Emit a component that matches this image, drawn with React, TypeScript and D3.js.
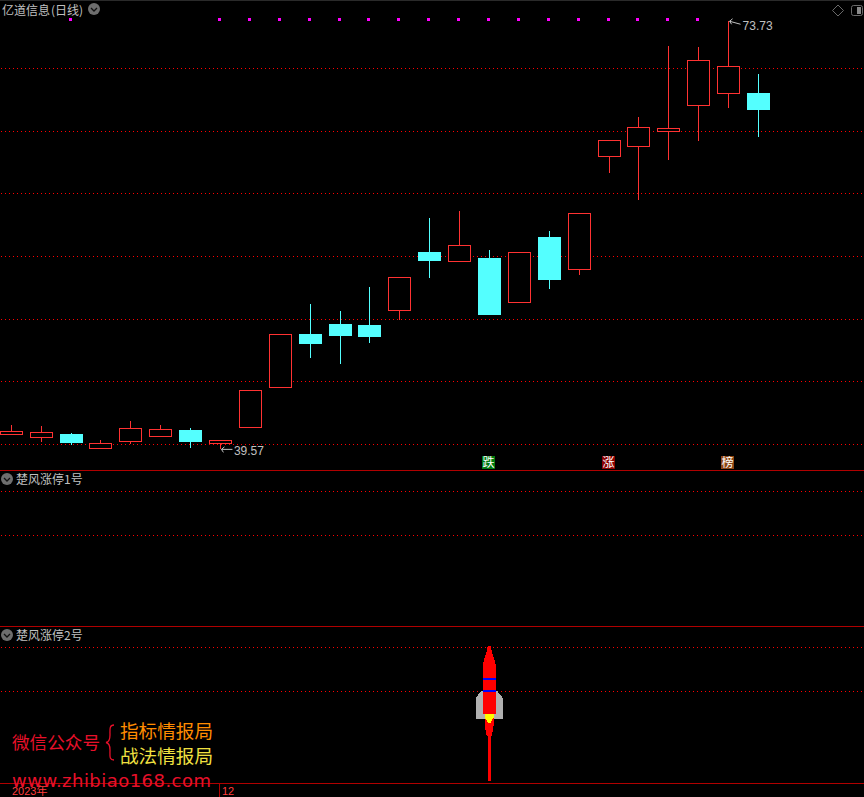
import { useEffect, useRef } from 'react';
import * as d3 from 'd3';

const highs = [41.52, 41.44, 40.88, 40.32, 41.84, 41.52, 41.28, 40.32, 44.31, 48.78, 51.17, 50.61, 52.53, 53.32, 58.03, 58.59, 55.48, 55.32, 56.99, 58.43, 64.26, 66.09, 71.76, 71.68, 73.73, 69.52];
const opens = [40.76, 40.56, 40.8, 39.64, 40.24, 40.68, 41.12, 40.08, 41.36, 44.55, 48.78, 49.57, 49.49, 50.69, 55.32, 54.6, 54.84, 51.33, 56.52, 53.96, 62.98, 63.78, 65.01, 67.05, 68.0, 68.0];
const closes = [41.0, 40.96, 40.16, 40.04, 41.28, 41.2, 40.24, 40.32, 44.31, 48.78, 48.06, 48.7, 48.62, 53.32, 54.68, 55.88, 50.37, 55.32, 53.17, 58.43, 64.26, 65.29, 65.21, 70.64, 70.16, 66.73];
const lows = [40.76, 40.16, 39.92, 39.64, 40.0, 40.68, 39.68, 39.57, 41.36, 44.55, 46.86, 46.38, 48.06, 49.89, 53.24, 54.52, 50.37, 51.33, 52.37, 53.48, 61.62, 59.47, 62.66, 64.18, 66.81, 64.5];
const priceTicks = [40, 45, 50, 55, 60, 65, 70];
const signalBars = [2, 7, 8, 9, 10, 11, 12, 13, 14, 15, 16, 17, 18, 19, 20, 21, 22, 23];
const badges = [
  { bar: 16, text: '跌', fill: '#007a10' },
  { bar: 20, text: '涨', fill: '#8b0000' },
  { bar: 24, text: '榜', fill: '#8b4513' },
];
const panelTitles = ['楚风涨停1号', '楚风涨停2号'];
const rocketBar = 16;

// rocket outline: half width against height above the panel line (icon units)
const rocketBody: [number, number][] = [
  [1.5, 137], [2.5, 132], [4, 127], [5.5, 122], [6.5, 118], [6.5, 69], [4.5, 69], [4.5, 58], [3.5, 52], [2.5, 47], [1.5, 47], [1.5, 2], [-1.5, 2], [-1.5, 47], [-2.5, 47], [-3.5, 52], [-4.5, 58], [-4.5, 69], [-6.5, 69], [-6.5, 118], [-5.5, 122], [-4, 127], [-2.5, 132], [-1.5, 137],
];
const rocketFin: [number, number][] = [
  [6.5, 92], [8, 92], [13.5, 85], [13.5, 64], [-13.5, 64], [-13.5, 85], [-8, 92], [-6.5, 92],
];
const rocketFlame: [number, number][] = [
  [4.5, 69], [4.5, 65], [2.5, 63], [1.5, 60], [-1.5, 60], [-2.5, 63], [-4.5, 65], [-4.5, 69],
];
const rocketBands = [104, 92];

export default function App() {
  const ref = useRef<SVGSVGElement>(null);

  useEffect(() => {
    const svg = d3.select(ref.current);
    svg.selectAll('*').remove();

    const width = 864;
    const height = 797;
    const cjk = '"Noto Sans CJK SC", sans-serif';
    const latin = '"Liberation Sans", sans-serif';
    const up = '#ff3232';
    const down = '#54ffff';
    const grey = '#c0c0c0';
    const gridRed = '#ff0000';

    svg.attr('width', width).attr('height', height).style('display', 'block').style('background', '#000');

    const x = d3.scaleLinear().domain([0, 25]).range([11.22, 758.47]);
    const y = d3.scaleLinear().domain([40, 70]).range([444, 68]);
    const bars = d3.range(highs.length);
    const snap = (v: number) => Math.floor(v) + 0.5;

    const g = svg.append('g').attr('shape-rendering', 'crispEdges');

    g.append('rect').attr('width', width).attr('height', 1).attr('fill', '#2a2a2a');

    // Dotted grid, main panel from the price scale, lower panels at their fixed levels
    const dotted = (yPos: number) =>
      g.append('line')
        .attr('x1', 1).attr('x2', width)
        .attr('y1', yPos + 0.5).attr('y2', yPos + 0.5)
        .attr('stroke', gridRed)
        .attr('stroke-dasharray', '1 3');
    priceTicks.forEach((t) => dotted(Math.round(y(t))));
    [491, 535, 647, 691].forEach(dotted);

    // Panel separators
    [470, 626, 783].forEach((yPos) => {
      g.append('line')
        .attr('x1', 0).attr('x2', width)
        .attr('y1', yPos + 0.5).attr('y2', yPos + 0.5)
        .attr('stroke', '#b00000');
    });

    // Candles
    const candle = g.selectAll('g.candle').data(bars).join('g').attr('class', 'candle');
    candle.append('line')
      .attr('x1', (i) => snap(x(i))).attr('x2', (i) => snap(x(i)))
      .attr('y1', (i) => y(highs[i])).attr('y2', (i) => y(lows[i]))
      .attr('stroke', (i) => (closes[i] >= opens[i] ? up : down));
    candle.append('rect')
      .attr('x', (i) => Math.floor(x(i)) - 11 + 0.5)
      .attr('width', 22)
      .attr('y', (i) => Math.round(y(Math.max(opens[i], closes[i]))) + 0.5)
      .attr('height', (i) => Math.max(2, Math.round(Math.abs(y(opens[i]) - y(closes[i])))))
      .attr('fill', (i) => (closes[i] >= opens[i] ? '#000' : down))
      .attr('stroke', (i) => (closes[i] >= opens[i] ? up : down));

    // Signal dots along the top
    g.selectAll('rect.signal').data(signalBars).join('rect')
      .attr('class', 'signal')
      .attr('x', (i) => Math.floor(x(i)) - 2)
      .attr('y', 18)
      .attr('width', 3).attr('height', 3)
      .attr('fill', '#ff00ff');

    // Badges
    const badge = svg.append('g').selectAll('g').data(badges).join('g')
      .attr('transform', (d) => `translate(${Math.floor(x(d.bar)) - 7},456)`);
    badge.append('rect').attr('width', 13).attr('height', 13).attr('fill', (d) => d.fill);
    badge.append('text')
      .attr('x', 6.5).attr('y', 11)
      .attr('text-anchor', 'middle')
      .attr('fill', '#fff')
      .style('font', `12px ${cjk}`)
      .text((d) => d.text);

    // Rocket, standing on the panel's bottom line
    const rx = d3.scaleLinear().domain([-1, 1]).range([x(rocketBar) - 1.2, x(rocketBar) + 0.8]);
    const ry = d3.scaleLinear().domain([0, 137]).range([783, 646]);
    const outline = d3.line<[number, number]>().x((d) => rx(d[0])).y((d) => ry(d[1]));
    const rocket = svg.append('g').attr('shape-rendering', 'crispEdges');
    rocket.append('path').attr('d', outline(rocketFin) + 'Z').attr('fill', '#b0b0b0');
    rocket.append('path').attr('d', outline(rocketBody) + 'Z').attr('fill', '#ff0000');
    rocket.append('path').attr('d', outline(rocketFlame) + 'Z').attr('fill', '#ffff00');
    rocket.selectAll('rect').data(rocketBands).join('rect')
      .attr('x', rx(-6.5)).attr('width', 13)
      .attr('y', (d) => ry(d) - 1).attr('height', 2)
      .attr('fill', '#0000ff');

    // Titles
    const label = (tx: number, ty: number, text: string, fill: string, size: number) =>
      svg.append('text')
        .attr('x', tx).attr('y', ty)
        .attr('fill', fill)
        .style('font', `${size}px ${cjk}`)
        .text(text);

    const chevron = (cx: number, cy: number) => {
      svg.append('circle').attr('cx', cx).attr('cy', cy).attr('r', 6).attr('fill', '#6e6e6e');
      svg.append('path')
        .attr('d', `M${cx - 3},${cy - 1}L${cx},${cy + 2}L${cx + 3},${cy - 1}`)
        .attr('fill', 'none')
        .attr('stroke', '#111')
        .attr('stroke-width', 1.3);
    };

    label(2, 15, '亿道信息', grey, 12);
    label(51, 15, '(日线)', grey, 12);
    chevron(94, 9);
    panelTitles.forEach((t, i) => {
      const top = [470, 626][i];
      label(16, top + 14, t, grey, 12);
      chevron(7, top + 9);
    });

    // Top right icons
    svg.append('path')
      .attr('d', 'M838,5L843.5,10.5L838,16L832.5,10.5Z')
      .attr('fill', 'none').attr('stroke', '#6a6a6a');
    svg.append('rect')
      .attr('x', 851.5).attr('y', 5.5).attr('width', 11).attr('height', 10).attr('rx', 2)
      .attr('fill', 'none').attr('stroke', '#6a6a6a');
    svg.append('rect').attr('x', 857).attr('y', 7).attr('width', 4).attr('height', 7).attr('fill', '#8a8a8a');

    // High and low price notes
    const arrow = (ax: number, ay: number, dir: number) => {
      svg.append('path')
        .attr('d', `M${ax},${ay}L${ax + 11},${ay + dir}M${ax},${ay}l3,-2.5M${ax},${ay}l2,3`)
        .attr('fill', 'none')
        .attr('stroke', grey);
    };
    const lowAt = lows.indexOf(d3.min(lows) as number);
    const highAt = highs.indexOf(d3.max(highs) as number);
    arrow(x(lowAt) + 1, y(lows[lowAt]), 0);
    label(x(lowAt) + 13.5, y(lows[lowAt]) + 6, d3.format('.2f')(lows[lowAt]), grey, 12)
      .style('font-family', latin);
    arrow(x(highAt) + 1, y(highs[highAt]) + 0, 3);
    label(x(highAt) + 14, y(highs[highAt]) + 9, d3.format('.2f')(highs[highAt]), grey, 12)
      .style('font-family', latin);

    // Watermark
    label(12, 749, '微信公众号', '#e8102a', 17.6);
    svg.append('path')
      .attr('d', 'M114,725C109,725 110,730 110,735C110,740 109,742 106,742.5C109,743 110,746 110,750C110,756 109,760 114,760')
      .attr('fill', 'none').attr('stroke', '#e8102a').attr('stroke-width', 1.3);
    label(120, 738, '指标情报局', '#ff8c00', 18.6);
    label(120, 763, '战法情报局', '#f0e040', 18.6);
    label(12, 787, 'www.zhibiao168.com', '#e8102a', 18)
      .attr('textLength', 199)
      .style('font-family', '"DejaVu Sans", sans-serif');

    // Date axis
    label(12, 795, '2023年', '#ff3c3c', 11).style('font-family', `${latin}, ${cjk}`);
    g.append('line')
      .attr('x1', snap(x(7)) - 1).attr('x2', snap(x(7)) - 1)
      .attr('y1', 784).attr('y2', 797)
      .attr('stroke', '#b00000');
    label(222, 795, '12', '#ff3c3c', 11).style('font-family', latin);
  }, []);

  return (
    <div style={{ position: 'absolute', left: 0, top: 0 }}>
      <svg ref={ref}></svg>
    </div>
  );
}
